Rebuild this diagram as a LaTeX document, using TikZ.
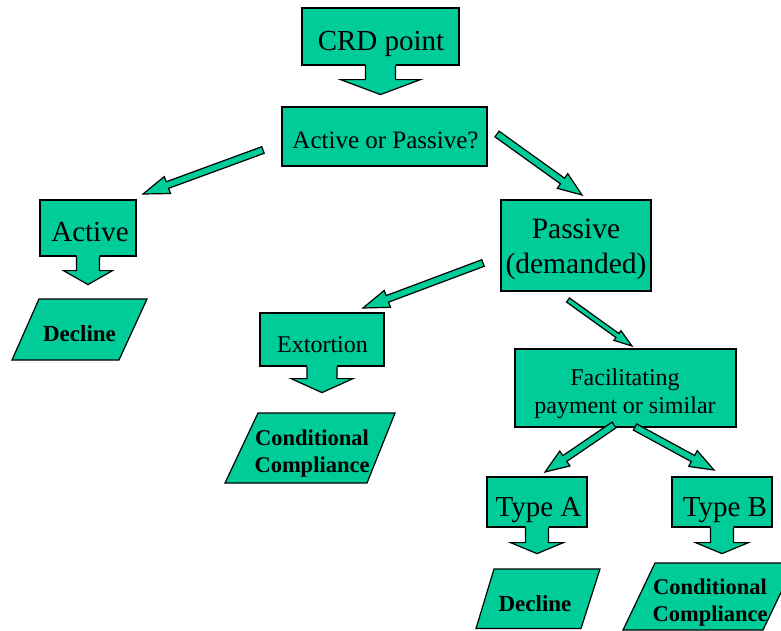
\documentclass[tikz,border=0pt]{standalone}
\usepackage{fontspec}
\setmainfont{Liberation Serif}
\usetikzlibrary{calc}
\definecolor{tealg}{RGB}{0,204,153}
\tikzset{
  outl/.style={draw=black, line width=1.2pt, line join=miter},
  box/.style={outl, fill=tealg, rectangle, inner sep=0pt},
  txt/.style={inner sep=0pt, text=black},
  para/.style={outl, fill=tealg},
  blockarr/.style={outl, fill=tealg},
}
% #1 start, #2 tip, #3 shaft half width, #4 head half width, #5 head length
\newcommand\blockarrow[5]{%
  \coordinate (ba-b) at ($(#2)!#5!(#1)$);
  \draw[blockarr] ($(#1)!#3!90:(#2)$) -- ($(ba-b)!#3!90:(#2)$) -- ($(ba-b)!#4!90:(#2)$) -- (#2)
     -- ($(ba-b)!#4!-90:(#2)$) -- ($(ba-b)!#3!-90:(#2)$) -- ($(#1)!#3!-90:(#2)$) -- cycle;
}
% #1 node, #2 stem half, #3 stem length, #4 head half, #5 head length
\newcommand\calloutdown[5]{%
  \fill[tealg] ($(#1.south)+(-#2,-1.5)$) -- ($(#1.south)+(-#2,#3)$) -- ($(#1.south)+(-#4,#3)$)
     -- ($(#1.south)+(0,#3+#5)$) -- ($(#1.south)+(#4,#3)$) -- ($(#1.south)+(#2,#3)$)
     -- ($(#1.south)+(#2,-1.5)$) -- cycle;
  \draw[outl] ($(#1.south)+(-#2,0)$) -- ($(#1.south)+(-#2,#3)$) -- ($(#1.south)+(-#4,#3)$)
     -- ($(#1.south)+(0,#3+#5)$) -- ($(#1.south)+(#4,#3)$) -- ($(#1.south)+(#2,#3)$)
     -- ($(#1.south)+(#2,0)$);
}
\begin{document}
\begin{tikzpicture}[x=1pt,y=-1pt]
\clip (0,0) rectangle (781,630);
\fill[white] (0,0) rectangle (781,630);

% boxes
\node[box, minimum width=157pt, minimum height=57pt] (crd) at (380.5,36.5) {};
\node[box, minimum width=205pt, minimum height=59pt] (aop) at (384.5,136.5) {};
\node[box, minimum width=96pt, minimum height=56pt] (act) at (88,228) {};
\node[box, minimum width=150pt, minimum height=91pt] (pas) at (576,245.5) {};
\node[box, minimum width=124pt, minimum height=53pt] (ext) at (322,339.5) {};
\node[box, minimum width=221pt, minimum height=78pt] (fac) at (625.5,388) {};
\node[box, minimum width=100pt, minimum height=50pt] (tya) at (537,502) {};
\node[box, minimum width=100pt, minimum height=50pt] (tyb) at (722,502) {};

% callout arrows
\calloutdown{crd}{15}{14}{40}{15}
\calloutdown{act}{11.5}{14}{24.5}{14}
\calloutdown{ext}{15}{12}{31}{14}
\calloutdown{tya}{11.5}{15}{26.5}{11}
\calloutdown{tyb}{11.5}{15}{26.5}{11}

% result parallelograms
\draw[para] (39,299) -- (147,299) -- (119,360) -- (12,360) -- cycle;
\draw[para] (258,413) -- (395,413) -- (367,483) -- (225,483) -- cycle;
\draw[para] (494,569) -- (600,569) -- (581,628.5) -- (476,628.5) -- cycle;
\draw[para] (655,563) -- (795,563) -- (763,630) -- (623,630) -- cycle;

% block arrows
\coordinate (a1s) at (263,150); \coordinate (a1e) at (143,194);
\coordinate (a2s) at (497,134); \coordinate (a2e) at (582,195);
\coordinate (a3s) at (483,263); \coordinate (a3e) at (363,308);
\coordinate (a4s) at (568,300); \coordinate (a4e) at (632,346);
\coordinate (a5s) at (614,425); \coordinate (a5e) at (545,472);
\coordinate (a6s) at (635,427); \coordinate (a6e) at (714,470);
\blockarrow{a1s}{a1e}{3.5pt}{9pt}{26pt}
\blockarrow{a2s}{a2e}{3.5pt}{9pt}{24pt}
\blockarrow{a3s}{a3e}{3.5pt}{9pt}{26pt}
\blockarrow{a4s}{a4e}{2.5pt}{6pt}{18pt}
\blockarrow{a5s}{a5e}{3.5pt}{9pt}{24pt}
\blockarrow{a6s}{a6e}{3.5pt}{9pt}{24pt}

% texts
\node[txt, font=\fontsize{29}{34}\selectfont, anchor=base] (crdt) at (381,50) {CRD point};
\node[txt, font=\fontsize{25}{30}\selectfont, anchor=base] (aopt) at (385.5,148.3) {Active or Passive?};
\node[txt, font=\fontsize{29}{34}\selectfont, anchor=base] (actt) at (90,241.7) {Active};
\node[txt, font=\bfseries\fontsize{23}{27}\selectfont, anchor=base] (dec1) at (79.5,341.7) {Decline};
\node[txt, font=\fontsize{29.5}{35}\selectfont, align=center] (past) at (576,249.2) {Passive\\(demanded)};
\node[txt, font=\fontsize{24}{29}\selectfont, anchor=base] (extt) at (322.5,352.7) {Extortion};
\node[txt, font=\bfseries\fontsize{22.5}{27}\selectfont, align=center] (cc1) at (312,453.2) {Conditional\\Compliance};
\node[txt, font=\fontsize{24}{28}\selectfont, align=center] (fact) at (625,393.4) {Facilitating\\payment or similar};
\node[txt, font=\fontsize{29}{34}\selectfont, anchor=base] (tyat) at (538.5,516.7) {Type A};
\node[txt, font=\fontsize{29}{34}\selectfont, anchor=base] (tybt) at (725,516.7) {Type B};
\node[txt, font=\bfseries\fontsize{23}{27}\selectfont, anchor=base] (dec2) at (535,611) {Decline};
\node[txt, font=\bfseries\fontsize{22.5}{27.5}\selectfont, align=center] (cc2) at (710,602.6) {Conditional\\Compliance};
\end{tikzpicture}
\end{document}
